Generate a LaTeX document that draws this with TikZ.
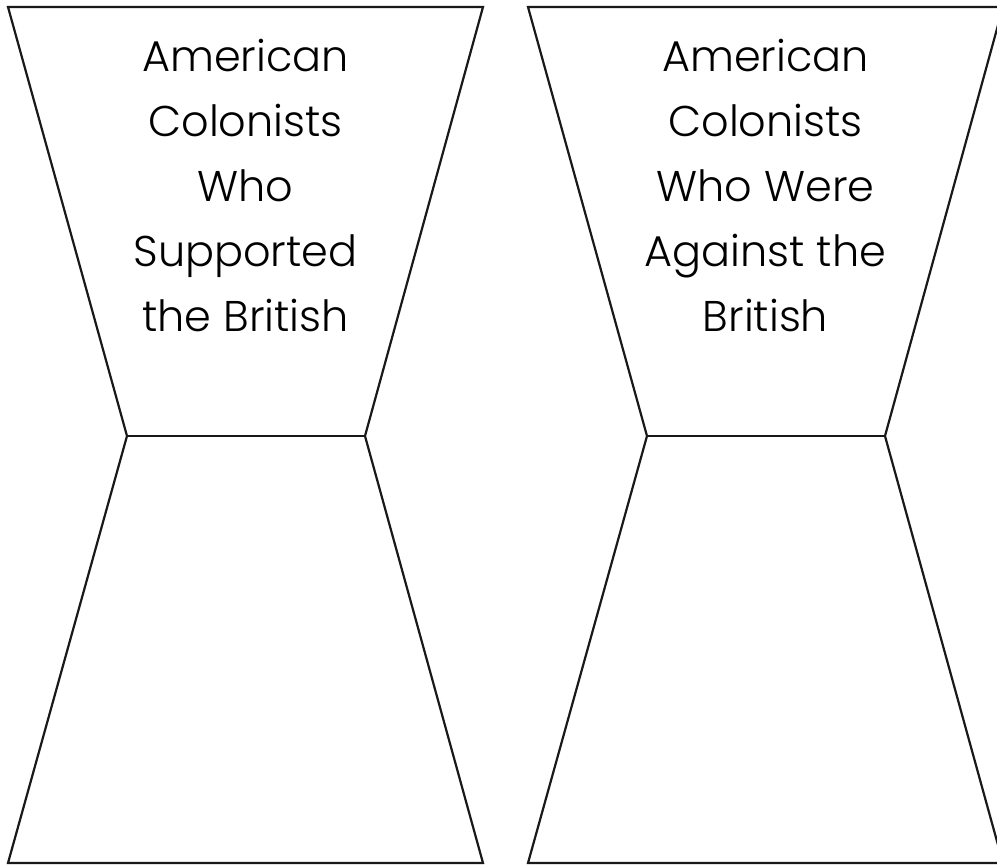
\documentclass[tikz,border=0pt]{standalone}
\usepackage{fontspec}
\setmainfont{Poppins}[UprightFont=* Light]
\begin{document}
\begin{tikzpicture}[x=1pt,y=-1pt,
  shapeline/.style={draw=black!90,line width=2.2pt,line join=miter},
  label/.style={align=center,inner sep=0pt,anchor=north,font=\fontsize{43}{65}\selectfont}]
\useasboundingbox (0,0) rectangle (997,865);
\clip (0,0) rectangle (997,865);
\fill[white] (0,0) rectangle (997,865);
\foreach \dx in {0,520}{
  \draw[shapeline] (8+\dx,7) -- (483+\dx,7) -- (365+\dx,436) -- (483+\dx,863) -- (8+\dx,863) -- (127+\dx,436) -- cycle;
  \draw[shapeline] (127+\dx,436) -- (365+\dx,436);
}
\node[label] (left) at (245.5,39) {American\\Colonists\\Who\\Supported\\the British};
\node[label] (right) at (765.5,39) {American\\Colonists\\Who Were\\Against the\\British};
\end{tikzpicture}
\end{document}
